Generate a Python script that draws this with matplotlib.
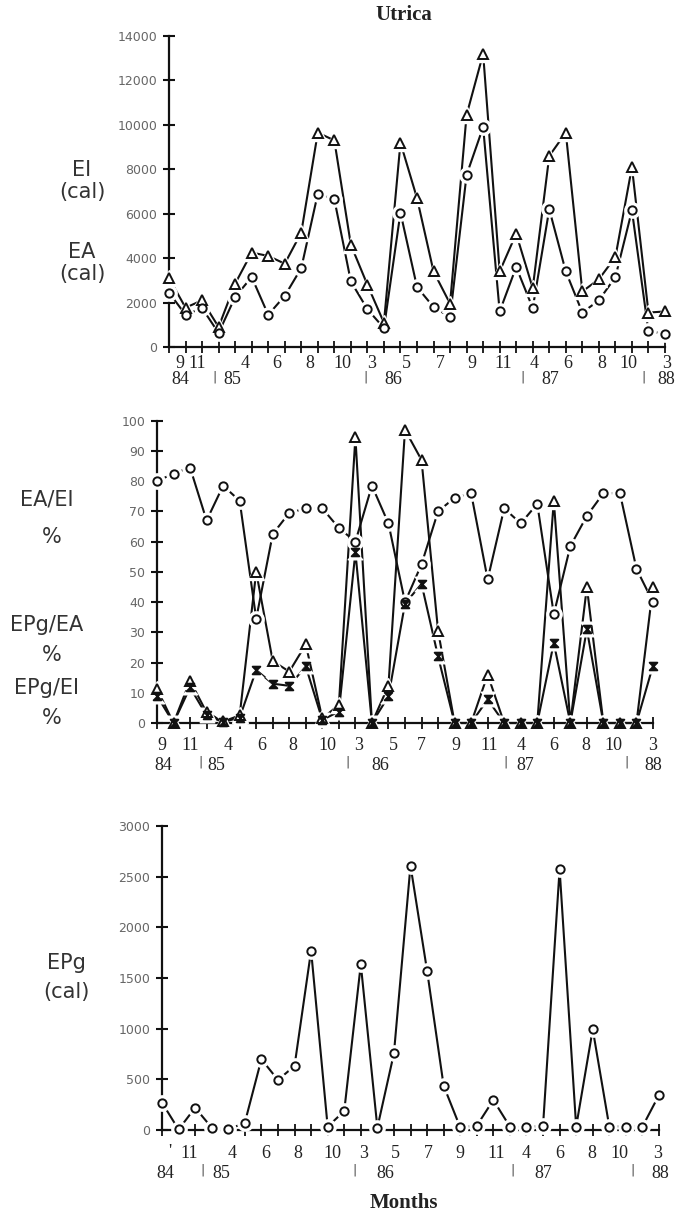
import numpy as np
import matplotlib
matplotlib.use("Agg")
import matplotlib.pyplot as plt
from matplotlib.path import Path
from matplotlib.transforms import blended_transform_factory

# ---------------------------------------------------------------------------
# Utrica - energy budget, 31 samplings from Sept 1984 to March 1988
# ---------------------------------------------------------------------------
n_samples = 31

# ingested (EI) and assimilated (EA) energy, cal
ei_cal = [3100, 1770, 2100, 900, 2850, 4250, 4100, 3750, 5150, 9650, 9300,
          4600, 2800, 1090, 9200, 6700, 3400, 1950, 10450, 13200, 3400, 5100,
          2650, 8600, 9650, 2500, 3050, 4050, 8100, 1550, 1600]
ea_cal = [2450, 1450, 1750, 630, 2250, 3150, 1450, 2300, 3550, 6900, 6650,
          2950, 1700, 850, 6050, 2700, 1800, 1350, 7750, 9900, 1600, 3600,
          1750, 6200, 3400, 1550, 2100, 3150, 6150, 700, 600]

# efficiencies, %
ea_ei_pct = [80, 82.5, 84.5, 67, 78.5, 73.5, 34.5, 62.5, 69.5, 71, 71, 64.5,
             60, 78.5, 66, 40, 52.5, 70, 74.5, 76, 47.5, 71, 66, 72.5, 36,
             58.5, 68.5, 76, 76, 51, 40]
epg_ea_pct = [11.3, 0, 14, 3.5, 0.5, 2.5, 50, 20.5, 17, 26, 1.5, 6, 94.5, 0,
              12.4, 97, 87, 30.5, 0, 0, 16, 0, 0, 0, 73.5, 0, 45, 0, 0, 0, 45]
epg_ei_pct = [9, 0, 11.8, 2.5, 0.3, 1.8, 17.5, 13, 12.3, 18.7, 1, 3.8, 56.5,
              0, 8.8, 39.5, 46, 22, 0, 0, 7.8, 0, 0, 0, 26.5, 0, 31, 0, 0, 0,
              19]

# gonad production energy, cal
epg_cal = [270, 5, 220, 23, 5, 72, 698, 494, 632, 1770, 33, 187, 1635, 23,
           757, 2609, 1573, 437, 26, 42, 296, 33, 26, 42, 2573, 33, 994, 33,
           33, 33, 345]

# axis labelling
month_labels = ["9", "11", "4", "6", "8", "10", "3", "5", "7", "9", "11",
                "4", "6", "8", "10", "3"]
month_labels_epg = ["'", "11", "4", "6", "8", "10", "3", "5", "7", "9", "11",
                    "4", "6", "8", "10", "3"]
year_labels = ["84", "85", "86", "87", "88"]

# ---------------------------------------------------------------------------
W, H = 679, 1229
fig = plt.figure(figsize=(W / 100, H / 100), dpi=100)
fig.patch.set_facecolor("white")

SANS = "DejaVu Sans"
SERIF = "Liberation Serif"


def add_axes(x0, x1, y_bottom, y_top):
    return fig.add_axes([x0 / W, 1 - y_bottom / H, (x1 - x0) / W,
                         (y_bottom - y_top) / H])


def style(ax, ymax, ystep):
    for s in ("top", "right"):
        ax.spines[s].set_visible(False)
    for s in ("left", "bottom"):
        ax.spines[s].set_linewidth(1.6)
        ax.spines[s].set_color("#111")
    ax.set_xlim(0, n_samples - 1)
    ax.set_ylim(0, ymax)
    ax.set_xticks(np.arange(n_samples))
    ax.set_xticklabels([])
    ax.set_yticks(np.arange(0, ymax + 1, ystep))
    ax.tick_params(axis="x", direction="inout", length=8, width=1.3,
                   color="#111")
    ax.tick_params(axis="y", direction="inout", length=9, width=1.5,
                   color="#111", labelsize=9, labelcolor="#666", pad=4)
    for lab in ax.get_yticklabels():
        lab.set_fontfamily(SANS)


hourglass = Path([(-1, 1), (1, 1), (-1, -1), (1, -1), (-1, 1)],
                 [Path.MOVETO, Path.LINETO, Path.LINETO, Path.LINETO,
                  Path.CLOSEPOLY])


def series(ax, values, marker, size, filled=False):
    x = np.arange(n_samples)
    ax.plot(x, values, color="#111", lw=1.5, zorder=2, clip_on=False)
    ax.plot(x, values, ls="none", marker=marker, ms=size + 5,
            mfc="white", mec="white", zorder=3, clip_on=False)
    ax.plot(x, values, ls="none", marker=marker, ms=size,
            mfc="#111" if filled else "white", mec="#111", mew=1.4,
            zorder=4, clip_on=False)


def month_axis_labels(ax, months, month_pos, year_pos, sep_pos,
                      y_month, y_year):
    tr = blended_transform_factory(ax.transData, fig.transFigure)
    for lab, xp in zip(months, month_pos):
        fig.text(xp, 1 - y_month / H, lab, transform=tr, ha="center",
                 va="center", fontsize=13, family=SERIF, color="#222")
    for lab, xp in zip(year_labels, year_pos):
        fig.text(xp, 1 - y_year / H, lab, transform=tr, ha="center",
                 va="center", fontsize=13, family=SERIF, color="#222")
    for xp in sep_pos:
        fig.text(xp, 1 - (y_year - 3) / H, "|", transform=tr, ha="center",
                 va="center", fontsize=9, family=SANS, color="#444")


def side_label(x, y, text, size=15):
    fig.text(x / W, 1 - y / H, text, ha="center", va="center",
             fontsize=size, family=SANS, color="#333")


# --- panel 1: EI and EA -----------------------------------------------------
ax1 = add_axes(169, 665, 347, 36)
style(ax1, 14000, 2000)
series(ax1, ei_cal, "^", 6.5)
series(ax1, ea_cal, "o", 6)
month_axis_labels(ax1, month_labels,
                  [0.67, 1.69, 4.6, 6.53, 8.53, 10.47, 12.28, 14.34, 16.4,
                   18.33, 20.2, 22.1, 24.1, 26.2, 27.8, 30.07],
                  [0.67, 3.81, 13.55, 23.05, 30.07],
                  [2.78, 11.86, 21.4, 28.7], 363, 380)
side_label(82, 170, "EI")
side_label(82, 192, "(cal)")
side_label(82, 252, "EA")
side_label(82, 274, "(cal)")

# --- panel 2: efficiencies --------------------------------------------------
ax2 = add_axes(157, 653, 723, 420.7)
style(ax2, 100, 10)
series(ax2, ea_ei_pct, "o", 6)
series(ax2, epg_ea_pct, "^", 6.5)
series(ax2, epg_ei_pct, hourglass, 5.5, filled=True)
month_axis_labels(ax2, month_labels,
                  [0.3, 2.0, 4.3, 6.35, 8.2, 10.3, 12.2, 14.3, 16.0, 18.1,
                   20.1, 22.0, 24.0, 25.95, 27.6, 30.0],
                  [0.36, 3.6, 13.5, 22.3, 30.0],
                  [2.66, 11.55, 21.1, 28.4], 745, 765)
side_label(47, 499, "EA/EI")
side_label(52, 537, "%")
side_label(47, 625, "EPg/EA")
side_label(52, 655, "%")
side_label(47, 688, "EPg/EI")
side_label(52, 718, "%")

# --- panel 3: EPg -----------------------------------------------------------
ax3 = add_axes(162, 659, 1130, 826)
style(ax3, 3000, 500)
series(ax3, epg_cal, "o", 6)
month_axis_labels(ax3, month_labels_epg,
                  [0.48, 1.63, 4.22, 6.28, 8.2, 10.3, 12.2, 14.1, 16.1, 18.0,
                   20.2, 21.97, 24.0, 25.95, 27.6, 29.9],
                  [0.18, 3.56, 13.46, 22.99, 30.05],
                  [2.47, 11.59, 21.18, 28.4], 1153, 1173)
side_label(66, 963, "EPg")
side_label(66, 992, "(cal)")

# --- titles -----------------------------------------------------------------
fig.text(404 / W, 1 - 15 / H, "Utrica", ha="center", va="center",
         fontsize=15, fontweight="bold", family=SERIF, color="#222")
fig.text(404 / W, 1 - 1203 / H, "Months", ha="center", va="center",
         fontsize=15, fontweight="bold", family=SERIF, color="#222")

fig.savefig("out.png", dpi=100, facecolor="white")
